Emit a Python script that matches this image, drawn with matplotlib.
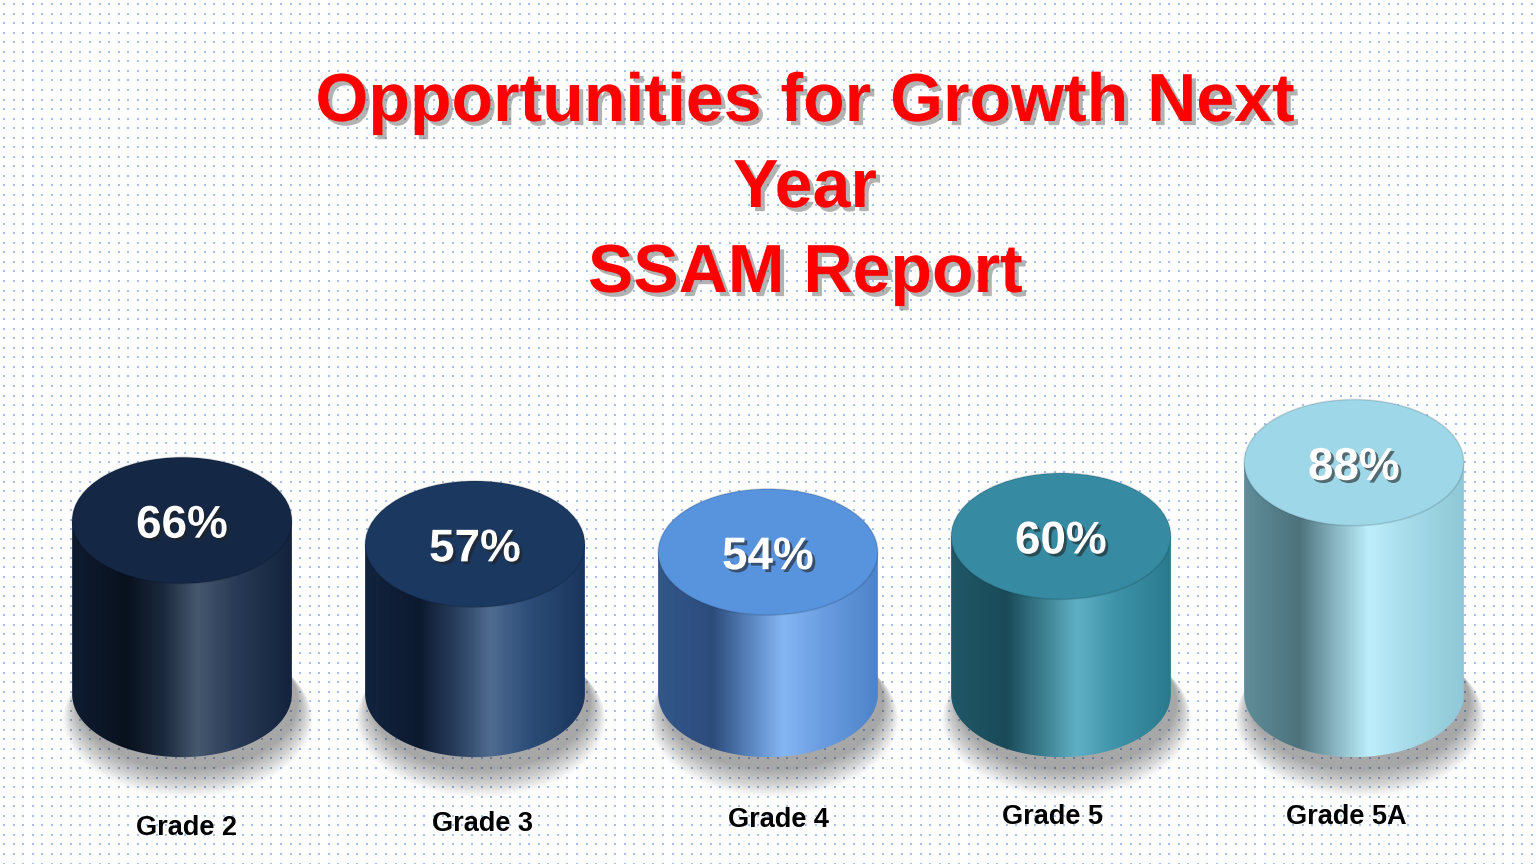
import numpy as np
import matplotlib
matplotlib.use("Agg")
import matplotlib.pyplot as plt
from matplotlib.patches import Ellipse, PathPatch
from matplotlib.path import Path
from matplotlib.colors import LinearSegmentedColormap
import matplotlib.patheffects as pe

# ---------------- data ----------------
categories = ["Grade 2", "Grade 3", "Grade 4", "Grade 5", "Grade 5A"]
values = [66, 57, 54, 60, 88]
title_lines = ["Opportunities for Growth Next", "Year", "SSAM Report"]

# ---------------- style / layout ----------------
top_colors = ["#142846", "#1b3860", "#5893dd", "#368ba3", "#9ed7e7"]
body_stops = [
    ["#0f1c30", "#08111e", "#1c2a3e", "#46586f", "#283a55", "#13233e"],
    ["#12233d", "#0c1a30", "#2a405f", "#4f6b90", "#2c4d78", "#1a355c"],
    ["#33578a", "#2c4c7c", "#5a86bf", "#85b6f4", "#6a9de0", "#4d83c9"],
    ["#205868", "#1a4a58", "#3c8090", "#5fb0c4", "#3e93a8", "#2a7a8e"],
    ["#5f8d99", "#4d727c", "#8ab8c4", "#bdeefb", "#a6dbea", "#8fc8d6"],
]
stop_pos = [0.0, 0.25, 0.42, 0.57, 0.75, 1.0]
label_dx_px = [5, 8, 10, -9, -8]
label_y_px = [828, 824, 820, 817, 817]

W, H = 1536, 864
fig = plt.figure(figsize=(W / 100, H / 100), dpi=100)
fig.patch.set_facecolor("white")

# background dotted pattern
bg = fig.add_axes([0, 0, 1, 1])
bg.set_xlim(0, W)
bg.set_ylim(H, 0)
bg.axis("off")
gx, gy = np.meshgrid(np.arange(4, W, 9.55), np.arange(4, H, 9.55))
bg.scatter(gx.ravel(), gy.ravel(), s=1.0, c="#6a98de", alpha=0.6,
           linewidths=0, marker="s")

# title
title_fx = [pe.SimplePatchShadow(offset=(3, -3), shadow_rgbFace="#666666", alpha=0.5),
            pe.Normal()]
title_y = [103, 189, 274]
for line, ty in zip(title_lines, title_y):
    bg.text(805, ty, line, ha="center", va="center", color="#ff0000",
            fontsize=49, fontweight="bold", family="Liberation Sans",
            path_effects=title_fx, zorder=5)

# bar axes: 1% = 2.63 px, baseline at 694 px from top
px_per = 2.63
ymin, ymax = -62, 140
ax_h = (ymax - ymin) * px_per
ax_bottom = (H - (694 + (-ymin) * px_per)) / H
ax = fig.add_axes([35.5 / W, ax_bottom, 1465 / W, ax_h / H])
ax.set_xlim(-0.5, 4.5)
ax.set_ylim(ymin, ymax)
ax.axis("off")
ax.patch.set_alpha(0)

bw = 0.75          # cylinder width (category units)
eh = 48.0          # ellipse height (value units)
px_per_cat = 293.0

pct_fx = [pe.SimplePatchShadow(offset=(2, -2), shadow_rgbFace="#222222", alpha=0.6),
          pe.Normal()]

for i, (cat, v) in enumerate(zip(categories, values)):
    x0, x1 = i - bw / 2, i + bw / 2
    # soft shadow
    for k in range(16):
        grow = 1 + 0.009 * k
        sh = Ellipse((i + 0.02, -3 - 0.45 * k), bw * grow, eh * grow * 1.08,
                     facecolor="black", alpha=0.022, edgecolor="none", zorder=1)
        ax.add_patch(sh)
    # body path
    t = np.linspace(np.pi, 2 * np.pi, 80)
    arc_x = i + bw / 2 * np.cos(t)
    arc_y = 0 + eh / 2 * np.sin(t)
    verts = [(x0, v)] + list(zip(arc_x, arc_y)) + [(x1, v), (x0, v)]
    codes = [Path.MOVETO] + [Path.LINETO] * (len(verts) - 2) + [Path.CLOSEPOLY]
    body = PathPatch(Path(verts, codes), facecolor="none", edgecolor="none", zorder=2)
    ax.add_patch(body)
    cmap = LinearSegmentedColormap.from_list("c%d" % i, list(zip(stop_pos, body_stops[i])))
    grad = np.linspace(0, 1, 256).reshape(1, -1)
    im = ax.imshow(grad, cmap=cmap, aspect="auto", extent=(x0, x1, -eh / 2 - 1, v),
                   origin="lower", interpolation="bilinear", zorder=2)
    im.set_clip_path(body)
    # top ellipse
    ax.add_patch(Ellipse((i, v), bw, eh, facecolor=top_colors[i], edgecolor="none", zorder=3))
    ax.add_patch(Ellipse((i, v), bw, eh, facecolor="none",
                         edgecolor=(0, 0, 0, 0.12), lw=1.2, zorder=3))
    # value label
    ax.text(i, v - 2, f"{v}%", ha="center", va="center", color="white",
            fontsize=33, fontweight="bold", family="Liberation Sans",
            path_effects=pct_fx, zorder=4)
    # category label
    ax.text(i + label_dx_px[i] / px_per_cat, (694 - label_y_px[i]) / px_per, cat,
            ha="center", va="center", color="black",
            fontsize=19.5, fontweight="bold", family="Liberation Sans", zorder=4)

fig.savefig("out.png", dpi=100)
